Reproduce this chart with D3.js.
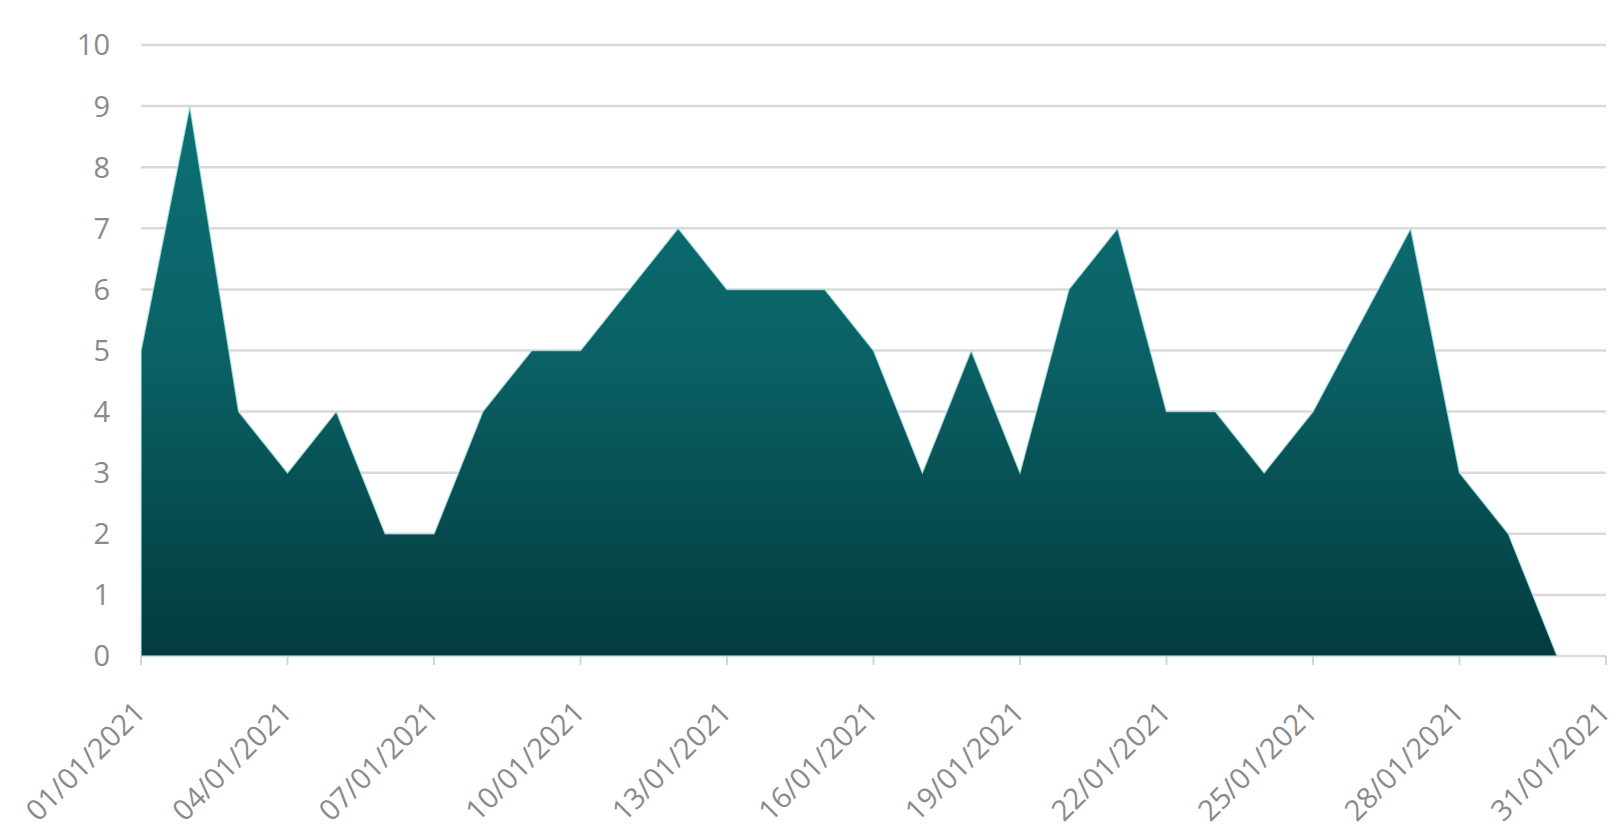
<!DOCTYPE html>
<html>
<head>
<meta charset="utf-8">
<script src="https://cdn.jsdelivr.net/npm/d3@7"></script>
<style>
  html, body { margin: 0; padding: 0; background: #fff; }
  svg { display: block; }
  .tick-label { font-family: "Open Sans", sans-serif; fill: #8a8a8a; }
</style>
</head>
<body>
<svg id="chart" width="1617" height="827"></svg>
<script>
// 数据
const dates = ["01/01/2021","02/01/2021","03/01/2021","04/01/2021","05/01/2021","06/01/2021",
  "07/01/2021","08/01/2021","09/01/2021","10/01/2021","11/01/2021","12/01/2021",
  "13/01/2021","14/01/2021","15/01/2021","16/01/2021","17/01/2021","18/01/2021",
  "19/01/2021","20/01/2021","21/01/2021","22/01/2021","23/01/2021","24/01/2021",
  "25/01/2021","26/01/2021","27/01/2021","28/01/2021","29/01/2021","30/01/2021"];
const values = [5, 9, 4, 3, 4, 2, 2, 4, 5, 5, 6, 7, 6, 6, 6, 5, 3, 5, 3, 6, 7, 4, 4, 3, 4, 5.5, 7, 3, 2, 0];
const yTicks = [0, 1, 2, 3, 4, 5, 6, 7, 8, 9, 10];
const xDomain = ["01/01/2021", "31/01/2021"];

const parse = d3.timeParse("%d/%m/%Y");
const fmt = d3.timeFormat("%d/%m/%Y");
const data = dates.map((d, i) => ({ date: parse(d), value: values[i] }));

const svg = d3.select("#chart");
const plotLeft = 141, plotRight = 1606, plotTop = 45, plotBottom = 656;

const x = d3.scaleTime().domain(xDomain.map(parse)).range([plotLeft, plotRight]);
const y = d3.scaleLinear().domain([0, 10]).range([plotBottom, plotTop]);

// 渐变
const defs = svg.append("defs");
const grad = defs.append("linearGradient")
    .attr("id", "areaGrad")
    .attr("gradientUnits", "userSpaceOnUse")
    .attr("x1", 0).attr("x2", 0)
    .attr("y1", y(9)).attr("y2", y(0));
grad.append("stop").attr("offset", "0%").attr("stop-color", "#0b7175");
grad.append("stop").attr("offset", "45%").attr("stop-color", "#0a6165");
grad.append("stop").attr("offset", "100%").attr("stop-color", "#023b3e");

// 网格线
svg.append("g")
    .selectAll("line")
    .data(yTicks)
    .enter()
    .append("line")
    .attr("x1", plotLeft)
    .attr("x2", plotRight)
    .attr("y1", d => y(d))
    .attr("y2", d => y(d))
    .attr("stroke", "#dadada")
    .attr("stroke-width", 2.5);

// y 轴标签
svg.append("g")
    .selectAll("text")
    .data(yTicks)
    .enter()
    .append("text")
    .attr("class", "tick-label")
    .attr("x", 110)
    .attr("y", d => y(d))
    .attr("dy", "0.36em")
    .attr("text-anchor", "end")
    .attr("font-size", 29)
    .text(d => d);

// 面积
const area = d3.area()
    .x(d => x(d.date))
    .y0(y(0))
    .y1(d => y(d.value));

svg.append("path")
    .datum(data)
    .attr("d", area)
    .attr("fill", "url(#areaGrad)")
    .attr("stroke", "#bdf0f0")
    .attr("stroke-width", 1.5)
    .attr("stroke-opacity", 0.7);

// x 轴
const xTicks = d3.timeDay.range(parse(xDomain[0]), d3.timeDay.offset(parse(xDomain[1]), 1), 3);
const gx = svg.append("g");
gx.selectAll("line")
    .data(xTicks)
    .enter()
    .append("line")
    .attr("x1", d => x(d))
    .attr("x2", d => x(d))
    .attr("y1", plotBottom)
    .attr("y2", plotBottom + 9)
    .attr("stroke", "#d4d4d4")
    .attr("stroke-width", 2);

gx.selectAll("text")
    .data(xTicks)
    .enter()
    .append("text")
    .attr("class", "tick-label")
    .attr("font-size", 29)
    .attr("text-anchor", "end")
    .attr("transform", d => `translate(${x(d) + 6},${plotBottom + 58}) rotate(-45)`)
    .text(d => fmt(d));
</script>
</body>
</html>
